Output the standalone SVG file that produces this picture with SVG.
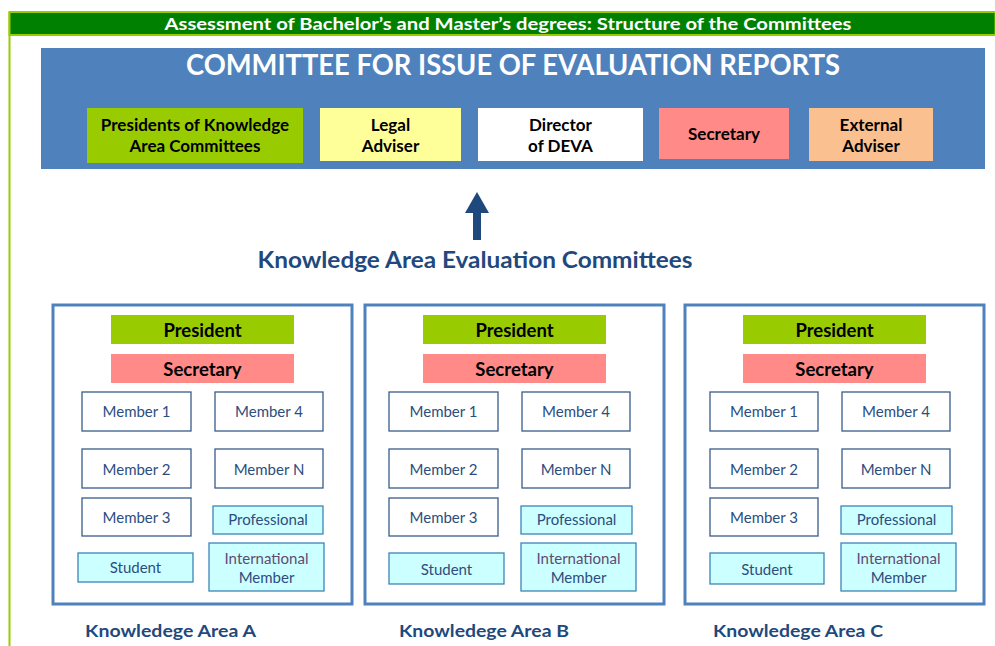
<svg xmlns="http://www.w3.org/2000/svg" width="995" height="646" viewBox="0 0 995 646">
  <style>
    .sans { font-family: Lato, "Liberation Sans", Arial, sans-serif; }
    .hdr { fill: #ffffff; font-weight: bold; }
    .dark { fill: #000000; font-weight: bold; font-size: 17px; }
    .navy { fill: #1f497d; font-weight: bold; }
    .area { fill: #ffffff; stroke: #4f81bd; stroke-width: 3; }
    .pres { fill: #99cc00; }
    .sec { fill: #ff8a87; }
    .mem { fill: #ffffff; stroke: #385d8a; stroke-width: 1.3; }
    .cyan { fill: #ccffff; stroke: #3d84b8; stroke-width: 1.3; }
    .role { fill: #000000; font-weight: bold; font-size: 18.5px; }
    .mtxt { fill: #2c4d7e; font-size: 15px; }
    .intl { fill: #5f4b72; font-size: 15px; }
  </style>

  <!-- page frame and title bar -->
  <line x1="9.5" y1="12" x2="9.5" y2="646" stroke="#99cc00" stroke-width="2"/>
  <rect x="9.5" y="12" width="986" height="23" fill="#008000" stroke="#99cc00" stroke-width="2"/>
  <text class="sans hdr" x="508" y="30" font-size="17" text-anchor="middle" textLength="687" lengthAdjust="spacingAndGlyphs">Assessment of Bachelor’s and Master’s degrees: Structure of the Committees</text>

  <!-- top committee -->
  <g id="committee-reports">
    <rect x="41" y="48" width="944" height="121" fill="#4f81bd"/>
    <text class="sans hdr" x="513" y="75" font-size="28" text-anchor="middle" textLength="654" lengthAdjust="spacingAndGlyphs">COMMITTEE FOR ISSUE OF EVALUATION REPORTS</text>
  </g>
  <g id="presidents">
    <rect x="87" y="108" width="216" height="55" class="pres"/>
    <text class="sans dark" x="195" y="131" text-anchor="middle">Presidents of Knowledge</text>
    <text class="sans dark" x="195" y="152" text-anchor="middle">Area Committees</text>
  </g>
  <g id="legal-adviser">
    <rect x="320" y="108" width="141" height="53" fill="#ffff99"/>
    <text class="sans dark" x="390.5" y="131" text-anchor="middle">Legal</text>
    <text class="sans dark" x="390.5" y="152" text-anchor="middle">Adviser</text>
  </g>
  <g id="director">
    <rect x="478" y="108" width="165" height="53" fill="#ffffff"/>
    <text class="sans dark" x="560.5" y="131" text-anchor="middle">Director</text>
    <text class="sans dark" x="560.5" y="152" text-anchor="middle">of DEVA</text>
  </g>
  <g id="secretary-top">
    <rect x="659" y="108" width="130" height="51" class="sec"/>
    <text class="sans dark" x="724" y="140" text-anchor="middle">Secretary</text>
  </g>
  <g id="external-adviser">
    <rect x="809" y="108" width="124" height="53" fill="#fac090"/>
    <text class="sans dark" x="871" y="131" text-anchor="middle">External</text>
    <text class="sans dark" x="871" y="152" text-anchor="middle">Adviser</text>
  </g>

  <!-- connectors -->
  <g id="connectors">
    <rect x="473" y="212" width="8" height="28" fill="#1f497d"/>
    <polygon points="465,213 477,192 489,213" fill="#1f497d"/>
  </g>

  <text class="sans navy" x="475" y="268" font-size="22" text-anchor="middle" textLength="435" lengthAdjust="spacingAndGlyphs">Knowledge Area Evaluation Committees</text>

  <!-- Knowledge Area A -->
  <g id="area-a">
    <rect x="53" y="305" width="299" height="299" class="area"/>
    <rect x="111" y="315" width="183" height="29" class="pres"/>
    <text class="sans role" x="202.5" y="337" text-anchor="middle">President</text>
    <rect x="111" y="354" width="183" height="29" class="sec"/>
    <text class="sans role" x="202.5" y="376" text-anchor="middle">Secretary</text>
    <rect x="82" y="392" width="109" height="39" class="mem"/>
    <text class="sans mtxt" x="136.5" y="417" text-anchor="middle">Member 1</text>
    <rect x="215" y="392" width="108" height="39" class="mem"/>
    <text class="sans mtxt" x="269" y="417" text-anchor="middle">Member 4</text>
    <rect x="82" y="449" width="109" height="39" class="mem"/>
    <text class="sans mtxt" x="136.5" y="475" text-anchor="middle">Member 2</text>
    <rect x="215" y="449" width="108" height="39" class="mem"/>
    <text class="sans mtxt" x="269" y="475" text-anchor="middle">Member N</text>
    <rect x="82" y="498" width="109" height="38" class="mem"/>
    <text class="sans mtxt" x="136.5" y="523" text-anchor="middle">Member 3</text>
    <rect x="213" y="506" width="110" height="28" class="cyan"/>
    <text class="sans mtxt" x="268" y="525" text-anchor="middle">Professional</text>
    <rect x="78" y="553" width="115" height="29" class="cyan"/>
    <text class="sans mtxt" x="135.5" y="573" text-anchor="middle">Student</text>
    <rect x="209" y="543" width="115" height="48" class="cyan"/>
    <text class="sans intl" x="266.5" y="564" text-anchor="middle">International</text>
    <text class="sans mtxt" x="266.5" y="583" text-anchor="middle">Member</text>
  </g>

  <!-- Knowledge Area B -->
  <g id="area-b">
    <rect x="365" y="305" width="299" height="299" class="area"/>
    <rect x="423" y="315" width="183" height="29" class="pres"/>
    <text class="sans role" x="514.5" y="337" text-anchor="middle">President</text>
    <rect x="423" y="354" width="183" height="29" class="sec"/>
    <text class="sans role" x="514.5" y="376" text-anchor="middle">Secretary</text>
    <rect x="389" y="392" width="109" height="39" class="mem"/>
    <text class="sans mtxt" x="443.5" y="417" text-anchor="middle">Member 1</text>
    <rect x="522" y="392" width="108" height="39" class="mem"/>
    <text class="sans mtxt" x="576" y="417" text-anchor="middle">Member 4</text>
    <rect x="389" y="449" width="109" height="39" class="mem"/>
    <text class="sans mtxt" x="443.5" y="475" text-anchor="middle">Member 2</text>
    <rect x="522" y="449" width="108" height="39" class="mem"/>
    <text class="sans mtxt" x="576" y="475" text-anchor="middle">Member N</text>
    <rect x="389" y="498" width="109" height="38" class="mem"/>
    <text class="sans mtxt" x="443.5" y="523" text-anchor="middle">Member 3</text>
    <rect x="521" y="506" width="111" height="28" class="cyan"/>
    <text class="sans mtxt" x="576.5" y="525" text-anchor="middle">Professional</text>
    <rect x="389" y="553" width="115" height="31" class="cyan"/>
    <text class="sans mtxt" x="446.5" y="575" text-anchor="middle">Student</text>
    <rect x="521" y="543" width="115" height="48" class="cyan"/>
    <text class="sans intl" x="578.5" y="564" text-anchor="middle">International</text>
    <text class="sans mtxt" x="578.5" y="583" text-anchor="middle">Member</text>
  </g>

  <!-- Knowledge Area C -->
  <g id="area-c">
    <rect x="685" y="305" width="299" height="299" class="area"/>
    <rect x="743" y="315" width="183" height="29" class="pres"/>
    <text class="sans role" x="834.5" y="337" text-anchor="middle">President</text>
    <rect x="743" y="354" width="183" height="29" class="sec"/>
    <text class="sans role" x="834.5" y="376" text-anchor="middle">Secretary</text>
    <rect x="710" y="392" width="108" height="39" class="mem"/>
    <text class="sans mtxt" x="764" y="417" text-anchor="middle">Member 1</text>
    <rect x="842" y="392" width="108" height="39" class="mem"/>
    <text class="sans mtxt" x="896" y="417" text-anchor="middle">Member 4</text>
    <rect x="710" y="449" width="108" height="39" class="mem"/>
    <text class="sans mtxt" x="764" y="475" text-anchor="middle">Member 2</text>
    <rect x="842" y="449" width="108" height="39" class="mem"/>
    <text class="sans mtxt" x="896" y="475" text-anchor="middle">Member N</text>
    <rect x="710" y="498" width="108" height="38" class="mem"/>
    <text class="sans mtxt" x="764" y="523" text-anchor="middle">Member 3</text>
    <rect x="841" y="506" width="111" height="28" class="cyan"/>
    <text class="sans mtxt" x="896.5" y="525" text-anchor="middle">Professional</text>
    <rect x="710" y="553" width="114" height="31" class="cyan"/>
    <text class="sans mtxt" x="767" y="575" text-anchor="middle">Student</text>
    <rect x="841" y="543" width="115" height="48" class="cyan"/>
    <text class="sans intl" x="898.5" y="564" text-anchor="middle">International</text>
    <text class="sans mtxt" x="898.5" y="583" text-anchor="middle">Member</text>
  </g>

  <!-- area captions -->
  <text class="sans navy" x="85" y="637" font-size="17" textLength="171" lengthAdjust="spacingAndGlyphs">Knowledege Area A</text>
  <text class="sans navy" x="399" y="637" font-size="17" textLength="170" lengthAdjust="spacingAndGlyphs">Knowledege Area B</text>
  <text class="sans navy" x="713" y="637" font-size="17" textLength="170" lengthAdjust="spacingAndGlyphs">Knowledege Area C</text>
</svg>
